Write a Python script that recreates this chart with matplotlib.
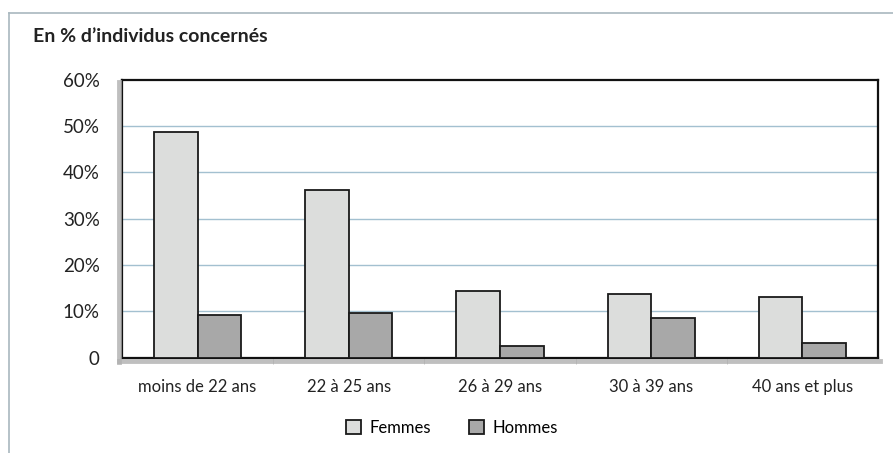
import numpy as np
import matplotlib.pyplot as plt
from matplotlib.patches import Patch
from matplotlib.lines import Line2D

# Data
categories = ['moins de 22 ans', '22 à 25 ans', '26 à 29 ans', '30 à 39 ans', '40 ans et plus']
femmes = [48.7, 36.1, 14.3, 13.7, 13.1]
hommes = [9.2, 9.7, 2.5, 8.5, 3.2]
yticks = [0, 10, 20, 30, 40, 50, 60]
ytick_labels = ['0', '10%', '20%', '30%', '40%', '50%', '60%']

plt.rcParams['font.family'] = ['Lato', 'DejaVu Sans']

fig = plt.figure(figsize=(8.93, 4.53), dpi=100)
ax = fig.add_axes([122 / 893, 1 - 357.7 / 453, 756 / 893, 278 / 453])

x = np.arange(len(categories))
w = 0.288
ax.bar(x - w / 2, femmes, w, color='#dcdddc', edgecolor='#1a1a1a', linewidth=1.3, zorder=3, label='Femmes')
ax.bar(x + w / 2, hommes, w, color='#a8a8a8', edgecolor='#1a1a1a', linewidth=1.3, zorder=3, label='Hommes')

ax.set_xlim(-0.5, len(categories) - 0.5)
ax.set_ylim(0, 60)
ax.set_yticks(yticks)
ax.set_yticklabels(ytick_labels, fontsize=13.5, color='#222222')
for y in yticks[1:-1]:
    ax.axhline(y, color='#a3c0d0', linewidth=1, zorder=1)

ax.set_xticks(x)
ax.set_xticklabels(categories, fontsize=12, color='#222222')
ax.tick_params(axis='x', length=0, pad=15)
ax.tick_params(axis='y', length=0, pad=16)
# small ticks at category boundaries
ax.set_xticks(np.arange(0.5, len(categories) - 0.5, 1), minor=True)
ax.tick_params(axis='x', which='minor', length=4, direction='out', color='#bbbbbb')

for s in ax.spines.values():
    s.set_color('#111111')
    s.set_linewidth(1.6)

# drop shadow on left and bottom of the frame
fig.add_artist(Line2D([119 / 893, 119 / 893], [1 - 82 / 453, 1 - 362 / 453], color='#b0b0b0', linewidth=3.5, alpha=0.8))
fig.add_artist(Line2D([119 / 893, 880 / 893], [1 - 361 / 453, 1 - 361 / 453], color='#b0b0b0', linewidth=3.5, alpha=0.8))

# outer frame lines
fig.add_artist(Line2D([8.5 / 893, 1], [1 - 12.5 / 453, 1 - 12.5 / 453], color='#a9b8bf', linewidth=1.2))
fig.add_artist(Line2D([8.5 / 893, 8.5 / 893], [0, 1 - 12.5 / 453], color='#a9b8bf', linewidth=1.2))

fig.text(33 / 893, 1 - 36 / 453, 'En % d\u2019individus concernés', fontsize=14, fontweight='bold',
         color='#222222', va='center')

handles = [Patch(facecolor='#dcdddc', edgecolor='#1a1a1a', linewidth=1.3, label='Femmes'),
           Patch(facecolor='#a8a8a8', edgecolor='#1a1a1a', linewidth=1.3, label='Hommes')]
fig.legend(handles=handles, loc='center', bbox_to_anchor=(452 / 893, 1 - 428 / 453), ncol=2,
           frameon=False, fontsize=12, handlelength=0.9, handleheight=0.9, columnspacing=2.3,
           handletextpad=0.5)

fig.savefig('out.png', dpi=100)
